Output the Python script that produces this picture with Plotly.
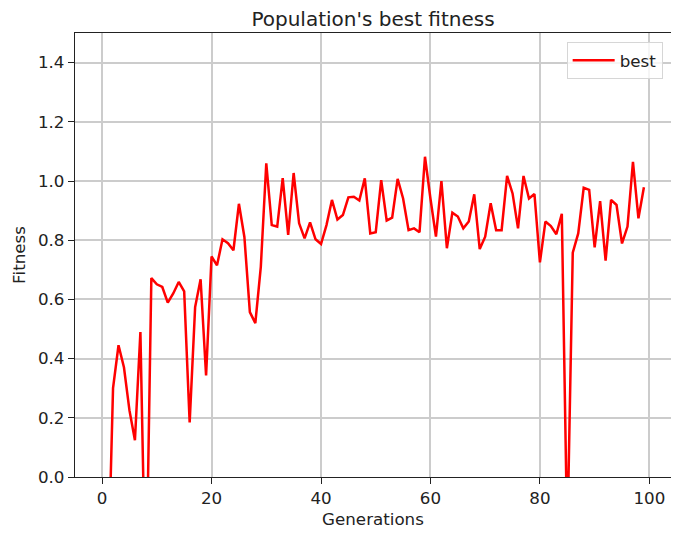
import plotly.graph_objects as go

generations = list(range(100))
best = [
    -0.50, -0.41, 0.30, 0.445, 0.37, 0.225, 0.124, 0.49, -0.45, 0.672,
    0.651, 0.642, 0.589, 0.62, 0.659, 0.627, 0.184, 0.574, 0.668, 0.343,
    0.745, 0.715, 0.803, 0.79, 0.766, 0.923, 0.811, 0.557, 0.52, 0.71,
    1.06, 0.851, 0.846, 1.01, 0.818, 1.027, 0.857, 0.806, 0.86, 0.803,
    0.787, 0.851, 0.936, 0.87, 0.885, 0.945, 0.947, 0.934, 1.009, 0.823,
    0.827, 1.003, 0.866, 0.876, 1.007, 0.941, 0.834, 0.84, 0.827, 1.082,
    0.94, 0.812, 1.0, 0.773, 0.893, 0.88, 0.84, 0.863, 0.955, 0.77,
    0.812, 0.925, 0.834, 0.834, 1.017, 0.958, 0.84, 1.017, 0.941, 0.956,
    0.725, 0.863, 0.848, 0.82, 0.889, -0.22, 0.758, 0.823, 0.977, 0.97,
    0.776, 0.932, 0.731, 0.936, 0.919, 0.789, 0.846, 1.065, 0.874, 0.979,
]

x_ticks = [0, 20, 40, 60, 80, 100]
y_ticks = [0.0, 0.2, 0.4, 0.6, 0.8, 1.0, 1.2, 1.4]

FONT = "DejaVu Sans"
# the page body has an 8px margin, so the figure is drawn 8px in from the window edge
W, H = 671, 525

fig = go.Figure()
fig.add_trace(go.Scatter(
    x=generations, y=best, mode="lines", name="best",
    line=dict(color="#ff0000", width=2.5),
))

axis_common = dict(
    showline=True, linecolor="#222222", linewidth=1.33, mirror=True,
    ticks="outside", ticklen=6, tickwidth=1.33, tickcolor="#222222",
    showgrid=True, gridcolor="#cccccc", gridwidth=1.5,
    zeroline=False,
    tickfont=dict(family=FONT, size=16.7, color="#222222"),
    title_font=dict(family=FONT, size=16.7, color="#222222"),
)

fig.update_layout(
    width=W, height=H,
    margin=dict(l=67, r=8, t=25, b=56, autoexpand=False),
    paper_bgcolor="white", plot_bgcolor="white",
    font=dict(family=FONT, size=16.7, color="#222222"),
    title=dict(text="Population's best fitness", x=0.5, xref="paper",
               y=1, yref="container", yanchor="top", pad=dict(t=4),
               font=dict(family=FONT, size=20, color="#222222")),
    showlegend=True,
    legend=dict(x=0.986, y=0.980, xanchor="right", yanchor="top",
                bgcolor="rgba(255,255,255,0.8)", bordercolor="#d6d6d6",
                borderwidth=1, itemwidth=42,
                font=dict(family=FONT, size=16.7, color="#222222")),
    xaxis=dict(range=[-4.95, 103.95], tickvals=x_ticks,
               title=dict(text="Generations", standoff=6), **axis_common),
    yaxis=dict(range=[0, 1.5], tickvals=y_ticks, tickformat=".1f",
               title=dict(text="Fitness", standoff=8), **axis_common),
)

fig.write_html("out.html")
